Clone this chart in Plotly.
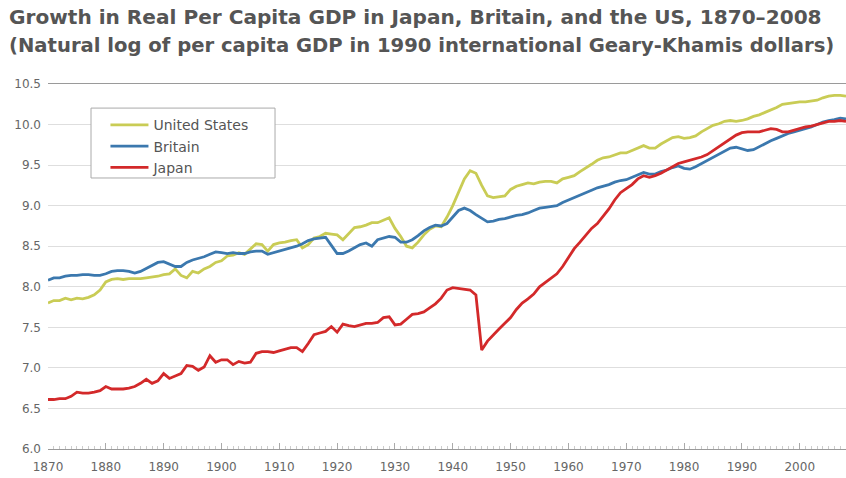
import plotly.graph_objects as go

years = list(range(1870, 2009))

# Natural log of per capita GDP (1990 international Geary-Khamis dollars)
us = [
    7.80, 7.83, 7.83, 7.86, 7.84, 7.86, 7.85, 7.87, 7.90, 7.96,   # 1870s
    8.06, 8.09, 8.10, 8.09, 8.10, 8.10, 8.10, 8.11, 8.12, 8.13,   # 1880s
    8.15, 8.16, 8.22, 8.14, 8.11, 8.19, 8.17, 8.22, 8.25, 8.30,   # 1890s
    8.32, 8.38, 8.39, 8.42, 8.40, 8.47, 8.53, 8.52, 8.44, 8.52,   # 1900s
    8.54, 8.55, 8.57, 8.58, 8.48, 8.52, 8.60, 8.62, 8.66, 8.65,   # 1910s
    8.64, 8.58, 8.66, 8.73, 8.74, 8.76, 8.79, 8.79, 8.82, 8.85,   # 1920s
    8.72, 8.62, 8.50, 8.48, 8.55, 8.64, 8.71, 8.75, 8.74, 8.86,   # 1930s
    9.00, 9.17, 9.33, 9.43, 9.40, 9.25, 9.12, 9.10, 9.11, 9.12,   # 1940s
    9.20, 9.24, 9.26, 9.28, 9.27, 9.29, 9.30, 9.30, 9.28, 9.33,   # 1950s
    9.35, 9.37, 9.42, 9.46, 9.51, 9.56, 9.59, 9.60, 9.63, 9.65,   # 1960s
    9.65, 9.68, 9.72, 9.74, 9.71, 9.71, 9.76, 9.80, 9.84, 9.85,   # 1970s
    9.83, 9.84, 9.86, 9.91, 9.95, 9.99, 10.01, 10.04, 10.05, 10.04,  # 1980s
    10.05, 10.07, 10.10, 10.12, 10.15, 10.18, 10.21, 10.25, 10.26, 10.27,  # 1990s
    10.28, 10.28, 10.29, 10.30, 10.33, 10.35, 10.36, 10.36, 10.35,  # 2000-2008
]

britain = [
    8.08, 8.11, 8.11, 8.13, 8.14, 8.14, 8.15, 8.15, 8.14, 8.14,   # 1870s
    8.16, 8.19, 8.20, 8.20, 8.19, 8.17, 8.19, 8.23, 8.27, 8.30,   # 1880s
    8.31, 8.28, 8.25, 8.25, 8.30, 8.33, 8.35, 8.37, 8.40, 8.43,   # 1890s
    8.42, 8.41, 8.42, 8.41, 8.41, 8.43, 8.44, 8.44, 8.40, 8.42,   # 1900s
    8.44, 8.46, 8.48, 8.50, 8.53, 8.57, 8.59, 8.60, 8.61, 8.51,   # 1910s
    8.41, 8.41, 8.44, 8.48, 8.52, 8.54, 8.50, 8.58, 8.60, 8.62,   # 1920s
    8.61, 8.55, 8.55, 8.58, 8.63, 8.69, 8.73, 8.76, 8.75, 8.78,   # 1930s
    8.86, 8.94, 8.97, 8.94, 8.89, 8.85, 8.80, 8.81, 8.83, 8.84,   # 1940s
    8.86, 8.88, 8.89, 8.91, 8.94, 8.97, 8.98, 8.99, 9.00, 9.04,   # 1950s
    9.07, 9.10, 9.12, 9.15, 9.19, 9.22, 9.24, 9.26, 9.29, 9.31,   # 1960s
    9.32, 9.35, 9.38, 9.41, 9.39, 9.39, 9.42, 9.44, 9.47, 9.49,   # 1970s
    9.46, 9.45, 9.48, 9.52, 9.55, 9.59, 9.63, 9.68, 9.71, 9.72,   # 1980s
    9.70, 9.68, 9.69, 9.73, 9.77, 9.80, 9.83, 9.86, 9.89, 9.91,   # 1990s
    9.93, 9.95, 9.97, 10.00, 10.03, 10.05, 10.06, 10.08, 10.07,   # 2000-2008
]

japan = [
    6.61, 6.61, 6.62, 6.62, 6.65, 6.70, 6.69, 6.69, 6.70, 6.72,   # 1870s
    6.77, 6.74, 6.74, 6.74, 6.75, 6.77, 6.81, 6.86, 6.81, 6.84,   # 1880s
    6.93, 6.87, 6.90, 6.93, 7.03, 7.02, 6.97, 7.01, 7.15, 7.07,   # 1890s
    7.10, 7.10, 7.04, 7.08, 7.06, 7.07, 7.18, 7.20, 7.20, 7.19,   # 1900s
    7.21, 7.23, 7.25, 7.25, 7.20, 7.30, 7.41, 7.43, 7.45, 7.51,   # 1910s
    7.44, 7.54, 7.52, 7.51, 7.53, 7.55, 7.55, 7.56, 7.62, 7.63,   # 1920s
    7.53, 7.54, 7.60, 7.66, 7.67, 7.69, 7.74, 7.79, 7.86, 7.96,   # 1930s
    7.99, 7.98, 7.97, 7.96, 7.90, 7.22, 7.33, 7.41, 7.48, 7.55,   # 1940s
    7.62, 7.72, 7.80, 7.85, 7.91, 8.00, 8.05, 8.11, 8.16, 8.25,   # 1950s
    8.36, 8.47, 8.55, 8.63, 8.72, 8.78, 8.87, 8.96, 9.07, 9.16,   # 1960s
    9.21, 9.26, 9.33, 9.37, 9.35, 9.37, 9.40, 9.44, 9.48, 9.52,   # 1970s
    9.54, 9.56, 9.58, 9.60, 9.63, 9.68, 9.73, 9.78, 9.83, 9.87,   # 1980s
    9.90, 9.91, 9.91, 9.91, 9.93, 9.95, 9.94, 9.91, 9.91, 9.93,   # 1990s
    9.95, 9.97, 9.98, 10.00, 10.02, 10.04, 10.04, 10.05, 10.04,   # 2000-2008
]

series_names = ["United States", "Britain", "Japan"]
series_colors = ["#c9cc55", "#3b78ae", "#d3292a"]
y_ticks = [6.0, 6.5, 7.0, 7.5, 8.0, 8.5, 9.0, 9.5, 10.0, 10.5]
title_line1 = "Growth in Real Per Capita GDP in Japan, Britain, and the US, 1870\u20132008"
title_line2 = "(Natural log of per capita GDP in 1990 international Geary-Khamis dollars)"

fig = go.Figure()
for name, vals, col in zip(series_names, [us, britain, japan], series_colors):
    fig.add_trace(go.Scatter(
        x=years, y=vals, mode="lines", name=name,
        line=dict(color=col, width=2.8),
    ))

font_family = "DejaVu Sans, Liberation Sans, Arial, sans-serif"
fig.update_layout(
    width=846, height=478,
    margin=dict(l=48, r=0, t=84, b=29, autoexpand=False),
    paper_bgcolor="white", plot_bgcolor="white",
    font=dict(family=font_family, color="#666666", size=12),
    showlegend=True,
    legend=dict(
        x=0.072, y=0.9305, xanchor="left", yanchor="top",
        borderwidth=0, bgcolor="rgba(0,0,0,0)",
        font=dict(size=14, color="#555555", family=font_family),
        itemwidth=38, tracegroupgap=0,
    ),
    xaxis=dict(
        range=[1870, 2008], dtick=10, tick0=1870, automargin=False,
        showgrid=False, zeroline=False,
        showline=True, linecolor="#9a9a9a", linewidth=1, mirror=True,
        ticks="inside", ticklen=6, tickcolor="#aaaaaa",
        minor=dict(dtick=1, ticks="inside", ticklen=3, tickcolor="#cccccc"),
        tickfont=dict(size=12, color="#666666"),
        ticklabelstandoff=7,
    ),
    yaxis=dict(
        range=[6.0, 10.5], tickvals=y_ticks, tickformat=".1f", automargin=False,
        showgrid=True, gridcolor="#dedede", gridwidth=1,
        zeroline=False, showline=False, ticks="",
        tickfont=dict(size=12, color="#666666"),
        ticklabelstandoff=6,
    ),
    shapes=[
        dict(type="rect", xref="paper", yref="paper",
             x0=0.0539, x1=0.2845, y0=0.7425, y1=0.934,
             line=dict(color="#aaaaaa", width=1), fillcolor="white", layer="above"),
    ],
    annotations=[
        dict(text="<b>" + title_line1 + "</b>", xref="paper", yref="paper",
             x=-0.0501, y=1.1836, xanchor="left", yanchor="middle", borderpad=0,
             showarrow=False, font=dict(size=20.1, color="#555555", family=font_family)),
        dict(text="<b>" + title_line2 + "</b>", xref="paper", yref="paper",
             x=-0.0501, y=1.1068, xanchor="left", yanchor="middle", borderpad=0,
             showarrow=False, font=dict(size=19.6, color="#555555", family=font_family)),
    ],
)

fig.write_html("out.html", config={"displayModeBar": False},
               post_script="document.body.style.margin='0';")
